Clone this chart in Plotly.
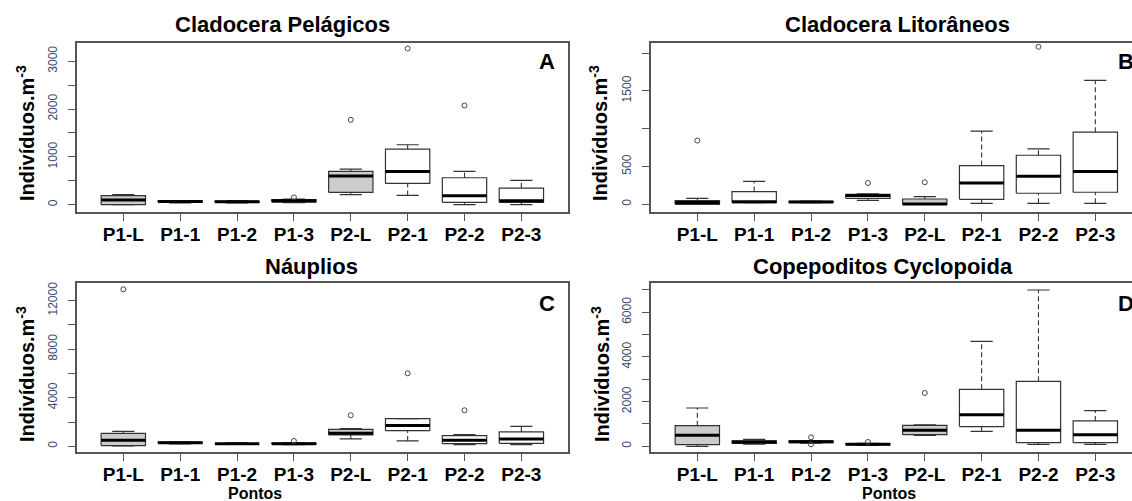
import plotly.graph_objects as go

# ---------------- data ----------------
categories = ["P1-L", "P1-1", "P1-2", "P1-3", "P2-L", "P2-1", "P2-2", "P2-3"]
box_fill = ["#CCCCCC", "white", "white", "white", "#CCCCCC", "white", "white", "white"]

# Panel A - Cladocera Pelágicos
a_low  = [0, 40, 38, 45, 209, 195, 0, 0]
a_q1   = [0, 52, 50, 56, 258, 445, 49, 49]
a_med  = [97, 66, 64, 84, 599, 696, 188, 84]
a_q3   = [188, 80, 78, 108, 696, 1162, 564, 348]
a_high = [209, 88, 86, 116, 745, 1253, 696, 508]
a_out  = [[], [], [], [153], [1775], [3264], [2074], []]

# Panel B - Cladocera Litorâneos
b_low  = [0, 22, 20, 53, 0, 13, 13, 13]
b_q1   = [0, 22, 25, 79, 0, 66, 146, 159]
b_med  = [22, 35, 31, 115, 5, 282, 371, 432]
b_q3   = [48, 168, 38, 132, 70, 512, 648, 953]
b_high = [79, 304, 42, 138, 101, 966, 732, 1637]
b_out  = [[843], [], [], [282], [291], [], [2082], []]

# Panel C - Náuplios
c_low  = [30, 200, 150, 140, 604, 439, 137, 137]
c_q1   = [60, 260, 190, 180, 934, 1291, 220, 247]
c_med  = [494, 300, 220, 215, 1071, 1703, 494, 604]
c_q3   = [1071, 340, 250, 260, 1400, 2279, 879, 1181]
c_high = [1236, 370, 280, 290, 1455, 2279, 961, 1648]
c_out  = [[12934], [], [], [440], [2554], [6014], [2966], []]

# Panel D - Copepoditos Cyclopoida
d_low  = [0, 100, 140, 40, 492, 672, 90, 90]
d_q1   = [75, 130, 165, 60, 522, 881, 164, 164]
d_med  = [493, 194, 209, 95, 716, 1418, 716, 522]
d_q3   = [925, 240, 240, 120, 940, 2552, 2910, 1134]
d_high = [1716, 313, 260, 130, 955, 4701, 7000, 1597]
d_out  = [[], [], [403, 90], [194], [2388], [], [], []]

titles = ["Cladocera Pelágicos", "Cladocera Litorâneos", "Náuplios", "Copepoditos Cyclopoida"]
letters = ["A", "B", "C", "D"]
# labelled y ticks
y_tickvals = [
    [0, 1000, 2000, 3000],
    [0, 500, 1500],
    [0, 4000, 8000, 12000],
    [0, 2000, 4000, 6000],
]
# unlabelled y ticks
y_minorvals = [
    [500, 1500, 2500],
    [1000, 2000],
    [2000, 6000, 10000],
    [1000, 3000, 5000, 7000],
]
y_label = "Indivíduos.m<sup>-3</sup>"
x_label = "Pontos"

panels = [
    (a_low, a_q1, a_med, a_q3, a_high, a_out),
    (b_low, b_q1, b_med, b_q3, b_high, b_out),
    (c_low, c_q1, c_med, c_q3, c_high, c_out),
    (d_low, d_q1, d_med, d_q3, d_high, d_out),
]

# ---------------- layout geometry ----------------
W, H = 1132, 501
FONT = "Liberation Sans, Arial, sans-serif"
FRAME = "#555555"
HALF = 0.39      # half box width (category units)
CAP = 0.195      # half cap width

def px(x):
    return x / W

def py(y):
    return 1 - y / H

x_domains = [[px(76.7), px(568)], [px(650.7), 1.0], [px(76.7), px(568)], [px(650.7), 1.0]]
y_domains = [[py(211.7), py(42.5)], [py(211.7), py(42.5)], [py(451.7), py(283.3)], [py(451.7), py(283.3)]]
x_ranges = [[0.18, 8.82], [0.18, 8.645], [0.18, 8.82], [0.18, 8.645]]
y_ranges = [[-146, 3390], [-98, 2139], [-445, 13427], [-242, 7299]]

fig = go.Figure()

for p, (lo, q1, med, q3, hi, out) in enumerate(panels):
    xa = "x" if p == 0 else f"x{p + 1}"
    ya = "y" if p == 0 else f"y{p + 1}"
    n = len(categories)
    pos = list(range(1, n + 1))

    for colour in ["#CCCCCC", "white"]:
        bx, by = [], []
        for i in range(n):
            if box_fill[i] != colour:
                continue
            c = pos[i]
            bx += [c - HALF, c + HALF, c + HALF, c - HALF, c - HALF, None]
            by += [q1[i], q1[i], q3[i], q3[i], q1[i], None]
        fig.add_trace(go.Scatter(x=bx, y=by, xaxis=xa, yaxis=ya, mode="lines",
                                 fill="toself", fillcolor=colour,
                                 line=dict(color="#333333", width=1.2),
                                 hoverinfo="skip", showlegend=False))

    wx, wy, cx, cy, mx, my = [], [], [], [], [], []
    for i in range(n):
        c = pos[i]
        wx += [c, c, None, c, c, None]
        wy += [q3[i], hi[i], None, lo[i], q1[i], None]
        cx += [c - CAP, c + CAP, None, c - CAP, c + CAP, None]
        cy += [hi[i], hi[i], None, lo[i], lo[i], None]
        mx += [c - HALF, c + HALF, None]
        my += [med[i], med[i], None]
    fig.add_trace(go.Scatter(x=wx, y=wy, xaxis=xa, yaxis=ya, mode="lines",
                             line=dict(color="#333333", width=1.1, dash="5px,3px"),
                             hoverinfo="skip", showlegend=False))
    fig.add_trace(go.Scatter(x=cx, y=cy, xaxis=xa, yaxis=ya, mode="lines",
                             line=dict(color="#333333", width=1.2),
                             hoverinfo="skip", showlegend=False))
    fig.add_trace(go.Scatter(x=mx, y=my, xaxis=xa, yaxis=ya, mode="lines",
                             line=dict(color="black", width=3),
                             hoverinfo="skip", showlegend=False))
    ox, oy = [], []
    for i in range(n):
        for v in out[i]:
            ox.append(pos[i])
            oy.append(v)
    fig.add_trace(go.Scatter(x=ox, y=oy, xaxis=xa, yaxis=ya, mode="markers",
                             marker=dict(symbol="circle-open", size=5, color="#444444",
                                         line=dict(width=1)),
                             hoverinfo="skip", showlegend=False))

    right_col = p in (1, 3)
    fig.update_layout(**{
        ("xaxis" if p == 0 else f"xaxis{p + 1}"): dict(
            domain=x_domains[p], range=x_ranges[p], anchor=ya,
            tickmode="array", tickvals=pos, ticktext=categories,
            ticks="outside", ticklen=8, tickwidth=1, tickcolor=FRAME,
            ticklabelstandoff=-3,
            tickfont=dict(family=FONT, size=19, color="black", weight="bold"),
            showline=True, linecolor=FRAME, linewidth=1.5, mirror=True,
            showgrid=False, zeroline=False, fixedrange=True),
        ("yaxis" if p == 0 else f"yaxis{p + 1}"): dict(
            domain=y_domains[p], range=y_ranges[p], anchor=xa,
            tickmode="array", tickvals=y_tickvals[p],
            ticktext=[str(v) for v in y_tickvals[p]],
            ticks="outside", ticklen=7, tickwidth=1, tickcolor=FRAME,
            minor=dict(tickmode="array", tickvals=y_minorvals[p], ticks="outside",
                       ticklen=7, tickwidth=1, tickcolor=FRAME, showgrid=False),
            tickangle=-90, ticklabelstandoff=6,
            tickfont=dict(family=FONT, size=12, color="#3a4a6a"),
            showline=True, linecolor=FRAME, linewidth=1.5,
            mirror=(False if right_col else True),
            showgrid=False, zeroline=False, fixedrange=True),
    })

annotations = []
title_pos = [(282, 24), (897, 24), (311, 266), (883, 266)]
letter_pos = [(547, 62), (1126, 62), (547, 303), (1126, 303)]
ylab_pos = [(25, 133), (598, 133), (25, 374), (600, 374)]
for p in range(4):
    tx, ty = title_pos[p]
    annotations.append(dict(text=f"<b>{titles[p]}</b>", x=px(tx), y=py(ty), xref="paper", yref="paper",
                            xanchor="center", yanchor="middle", showarrow=False,
                            font=dict(family=FONT, size=22, color="black")))
    lx, ly = letter_pos[p]
    annotations.append(dict(text=f"<b>{letters[p]}</b>", x=px(lx), y=py(ly), xref="paper", yref="paper",
                            xanchor="center", yanchor="middle", showarrow=False,
                            font=dict(family=FONT, size=22, color="black")))
    yx, yy = ylab_pos[p]
    annotations.append(dict(text=f"<b>{y_label}</b>", x=px(yx), y=py(yy), xref="paper", yref="paper",
                            xanchor="center", yanchor="middle", textangle=-90, showarrow=False,
                            font=dict(family=FONT, size=20, color="black")))
for (xx, yy) in [(255, 493), (889, 493)]:
    annotations.append(dict(text=f"<b>{x_label}</b>", x=px(xx), y=py(yy), xref="paper", yref="paper",
                            xanchor="center", yanchor="middle", showarrow=False,
                            font=dict(family=FONT, size=16, color="black")))

fig.update_layout(
    width=W, height=H,
    margin=dict(l=0, r=0, t=0, b=0),
    paper_bgcolor="white", plot_bgcolor="white",
    showlegend=False,
    annotations=annotations,
)

fig.write_html("out.html", config={"displayModeBar": False},
               post_script="document.body.style.margin='0px';document.body.style.overflow='hidden';")
